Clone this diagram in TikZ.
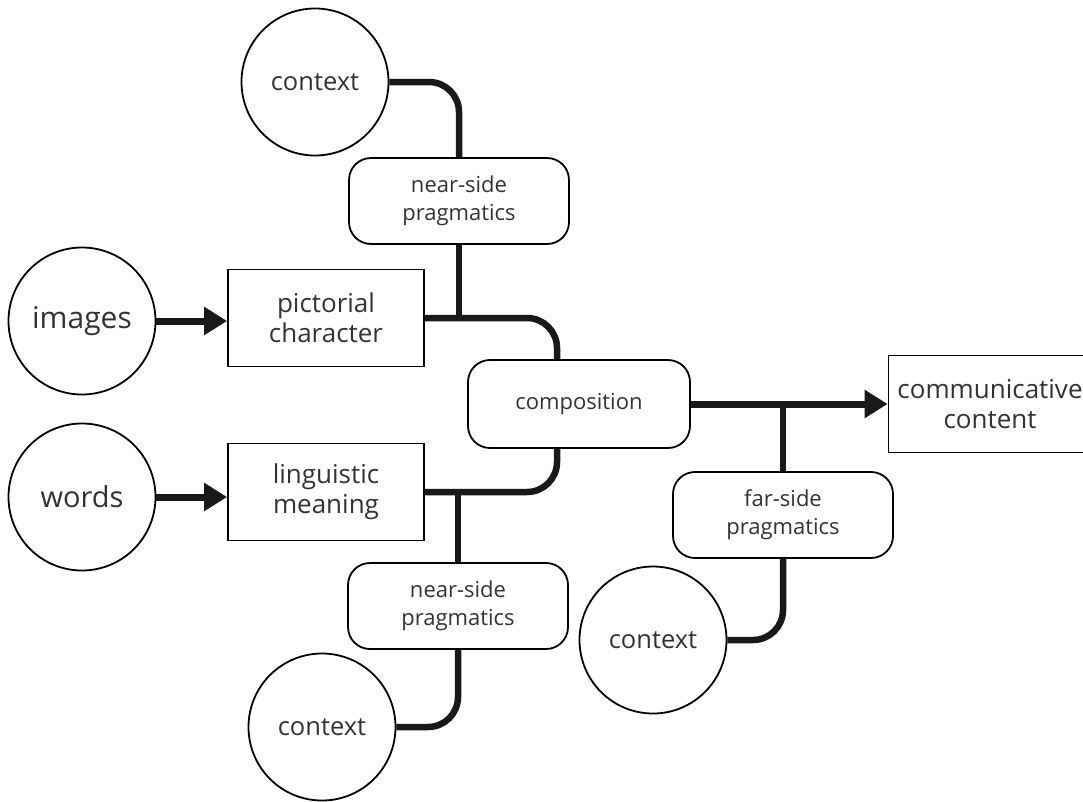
\documentclass[tikz,border=0pt]{standalone}
\usepackage{fontspec}
\setmainfont{Open Sans}
\usetikzlibrary{positioning, calc, arrows.meta}

\begin{document}
\begin{tikzpicture}[x=1pt, y=-1pt]
  \tikzstyle{source}=[circle, draw, line width=1.8pt, minimum size=147pt, inner sep=0pt, text=black!80]
  \tikzstyle{stage}=[draw, line width=1.8pt, minimum width=196pt, minimum height=97pt, align=center,
  text=black!80, font=\fontsize{26pt}{30pt}\selectfont]
  \tikzstyle{prag}=[rounded corners=22pt, draw, line width=1.8pt, minimum width=220pt, minimum height=86pt,
  align=center, text=black!80, font=\fontsize{22pt}{28pt}\selectfont]
  \tikzstyle{conn}=[line width=6.5pt, black!90, rounded corners=30pt]
  \tikzstyle{feed}=[line width=7pt, black!90, -{Triangle[length=23pt, width=27pt]}]

  \useasboundingbox (0, 0) rectangle (1083, 801);

  % inputs
  \node (images) [source, font=\fontsize{30pt}{34pt}\selectfont] at (82, 321) {images};
  \node (words) [source, font=\fontsize{29pt}{34pt}\selectfont] at (82, 497) {words};
  \node (pict) [stage] at (326, 318) {pictorial\\character};
  \node (ling) [stage] at (326, 492) {linguistic\\meaning};

  % pragmatics and context
  \node (ctxtop) [source, font=\fontsize{25.5pt}{30pt}\selectfont] at (315, 82) {context};
  \node (neartop) [prag] at (459, 201) {near-side\\pragmatics};
  \node (nearbot) [prag] at (458, 606) {near-side\\pragmatics};
  \node (ctxbot) [source, font=\fontsize{25.5pt}{30pt}\selectfont] at (322, 727) {context};

  \node (comp) [prag, minimum width=222pt, minimum height=88pt] at (579, 404) {composition};
  \node (far) [prag] at (783, 515) {far-side\\pragmatics};
  \node (ctxfar) [source, font=\fontsize{25.5pt}{30pt}\selectfont] at (653, 640) {context};
  \node (comm) [stage, minimum width=203pt] at (990, 404) {communicative\\content};

  \coordinate (comptop) at ([xshift=-22pt]comp.north);
  \coordinate (compbot) at ([xshift=-22pt]comp.south);

  % connectors
  \draw[feed] (images) -- (images -| pict.west);
  \draw[feed] (words) -- (words -| ling.west);
  \draw[conn] (ctxtop.east) -| (neartop.north);
  \draw[conn] (neartop.south) -- (neartop.south |- pict.east);
  \draw[conn] (pict.east) -| (comptop);
  \draw[conn] (ling.east) -| (compbot);
  \draw[conn] (nearbot.north) -- (nearbot.north |- ling.east);
  \draw[conn] (nearbot.south) |- (ctxbot.east);
  \draw[feed] (comp.east) -- (comm.west);
  \draw[conn] (far.north) -- (far.north |- comp.east);
  \draw[conn] (far.south) |- (ctxfar.east);

\end{tikzpicture}
\end{document}
